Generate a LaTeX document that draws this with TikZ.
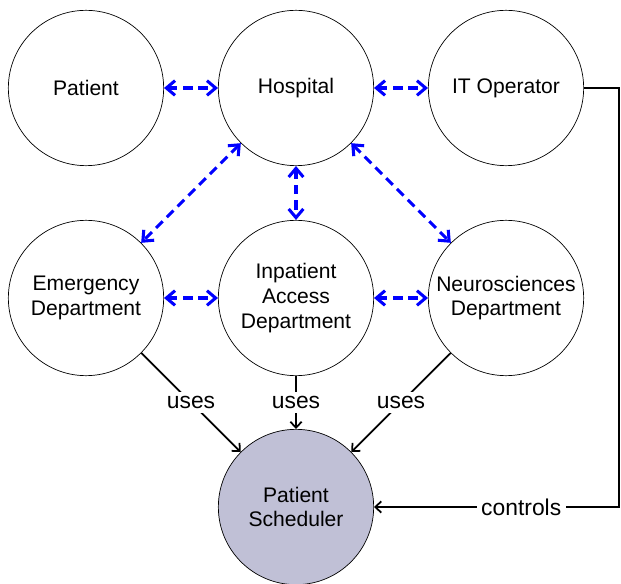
\documentclass[tikz,border=0pt]{standalone}
\usepackage{fontspec}
\setmainfont{Liberation Sans}
\usetikzlibrary{arrows.meta}

\definecolor{schedfill}{RGB}{192,192,214}
\tikzset{
  actor/.style={circle, draw, line width=0.6pt, minimum size=4.66cm, inner sep=0pt,
    align=center, font=\fontsize{18}{21}\selectfont},
  link/.style={blue, line width=2.6pt, dash pattern=on 8pt off 5pt,
    {Straight Barb[length=2.6mm,width=4.4mm]}-{Straight Barb[length=2.6mm,width=4.4mm]}},
  uses/.style={line width=1.5pt, -{Straight Barb[length=1.8mm,width=3.4mm]}},
  tag/.style={fill=white, inner sep=4pt, font=\fontsize{19.5}{22}\selectfont}
}

\begin{document}
\begin{tikzpicture}
		\useasboundingbox (0,0) rectangle (18.63,17.49);

		% top row
		\node[actor] (patient) at (2.58,14.85) {Patient};
		\node[actor] (hospital) at (8.88,14.85) {Hospital};
		\node[actor] (itop) at (15.18,14.85) {IT Operator};

		% departments
		\node[actor] (emerg) at (2.58,8.55) {Emergency\\Department};
		\node[actor] (inpat) at (8.88,8.55) {Inpatient\\Access\\Department};
		\node[actor] (neuro) at (15.18,8.55) {Neurosciences\\Department};

		\node[actor, fill=schedfill] (sched) at (8.88,2.28) {Patient\\Scheduler};

		\foreach \a/\b in {patient/hospital, hospital/itop, emerg/inpat, inpat/neuro,
		                   hospital/emerg, hospital/inpat, hospital/neuro}
		\draw[link] (\a) -- (\b);

		\foreach \d in {emerg, inpat, neuro}
		\draw[uses] (\d) -- node[tag] {uses} (sched);

		\coordinate (bend) at (18.58,14.85);
		\draw[uses] (itop.east) -- (bend) |- node[tag, pos=0.7] {controls} (sched.east);

	\end{tikzpicture}
\end{document}
